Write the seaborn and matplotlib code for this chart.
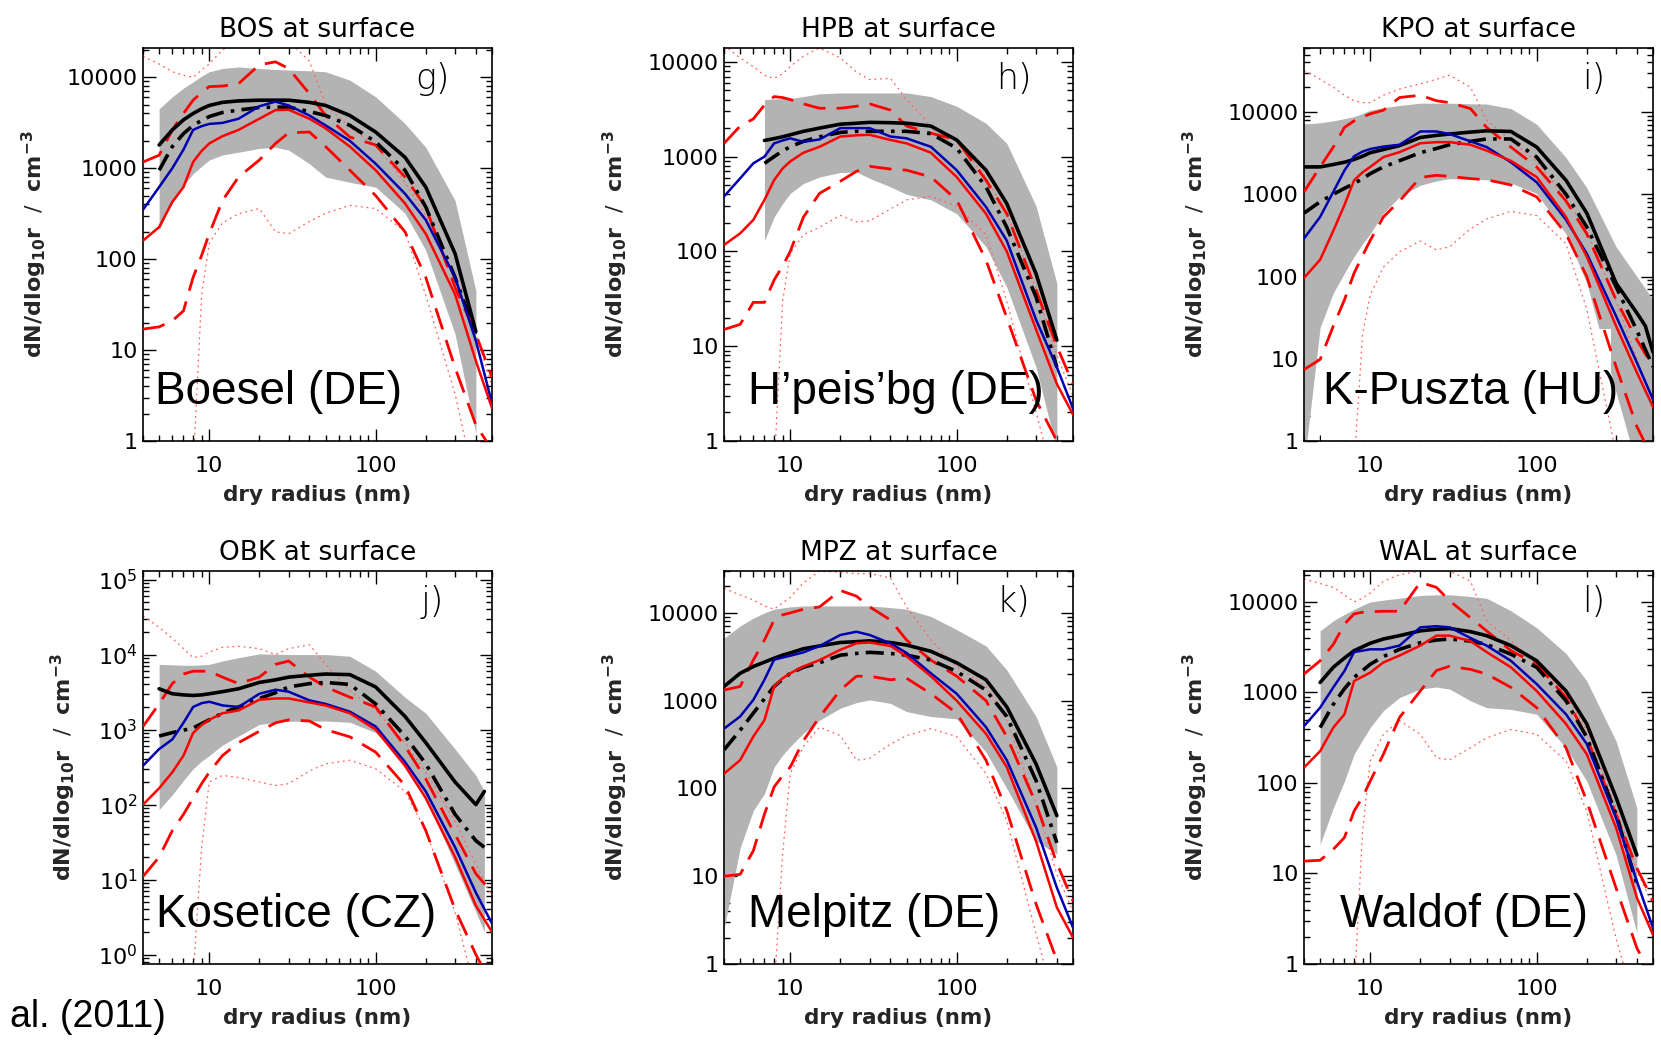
import numpy as np
import matplotlib
matplotlib.use("Agg")
import matplotlib.pyplot as plt
from matplotlib.patches import Rectangle
import seaborn as sns
from matplotlib.ticker import LogLocator, FuncFormatter, NullFormatter

N = np.nan

# common radius grid (nm); NaN = no reading at that radius
radius = [4, 5, 6, 7, 8, 9, 10, 12, 15, 20, 25, 30, 40, 50, 70, 100, 150, 200, 300, 400, 450, 500]

stations = ["BOS", "HPB", "KPO", "OBK", "MPZ", "WAL"]
panel_tags = ["g)", "h)", "i)", "j)", "k)", "l)"]
site_names = ["Boesel (DE)", "H\u2019peis\u2019bg (DE)", "K-Puszta (HU)",
              "Kosetice (CZ)", "Melpitz (DE)", "Waldof (DE)"]
y_bottom = [1, 1, 1, 0.75, 1, 1]
y_top = [21000, 14000, 60000, 1.3e5, 30000, 22000]

# observed spread (grey band)
band_hi = {
    "BOS": [N, 4500, 6100, 7600, 8900, 10300, 11500, 12500, 13000, 12500, 12200, 12000, 11800, 11500, 9300, 6100, 3100, 1700, 440, 45, N, N],
    "HPB": [N, N, N, 4000, 4050, 4100, 4100, 4300, 4600, 4700, 4700, 4700, 4700, 4700, 4300, 3400, 2250, 1380, 300, 46, N, N],
    "KPO": [7100, 7400, 7800, 8300, 8800, 9600, 10500, 11300, 12000, 12800, 12800, 12800, 12600, 12500, 11000, 7100, 2800, 1200, 230, 100, N, 52],
    "OBK": [N, 7400, 7300, 7200, 7200, 7300, 7400, 8200, 9100, 10200, 10100, 10000, 10000, 10000, 9500, 6000, 2700, 1650, 550, 245, 150, N],
    "MPZ": [5150, 7100, 8700, 10000, 11000, 11400, 11700, 12000, 12000, 12000, 12000, 12000, 11500, 11000, 9100, 6450, 4200, 2240, 660, 175, N, N],
    "WAL": [N, 4800, 6200, 7300, 8300, 9200, 10000, 10500, 11000, 11800, 12000, 12000, 11500, 11000, 8000, 5200, 2700, 1340, 290, 53, N, N],
}
band_lo = {
    "BOS": [N, 208, 440, 650, 870, 1050, 1230, 1400, 1500, 1650, 1700, 1580, 1120, 800, 700, 620, 320, 125, 15, 1.2, N, N],
    "HPB": [N, N, N, 130, 230, 320, 410, 520, 610, 680, 690, 590, 480, 400, 350, 250, 112, 42, 6, 0.8, N, N],
    "KPO": [0.5, 24, 63, 110, 175, 250, 330, 590, 930, 1290, 1450, 1550, 1520, 1500, 1370, 1020, 330, 83, 3.9, 0.5, N, 0.5],
    "OBK": [N, 86, 135, 210, 300, 380, 450, 620, 820, 1170, 1250, 1290, 1300, 1300, 1250, 910, 370, 122, 16, 3.7, 2, N],
    "MPZ": [2.5, 21, 56, 87, 175, 240, 300, 425, 600, 820, 950, 1020, 930, 750, 660, 620, 260, 100, 25, 18, N, N],
    "WAL": [N, 21, 53, 105, 208, 300, 410, 630, 880, 1090, 1150, 1090, 810, 680, 650, 575, 245, 105, 16, 2.2, N, N],
}
obs_median = {
    "BOS": [N, 1800, 2640, 3400, 4000, 4500, 4900, 5300, 5500, 5600, 5600, 5600, 5300, 4900, 3800, 2500, 1320, 620, 115, 16, N, N],
    "HPB": [N, N, N, 1480, 1550, 1620, 1700, 1850, 2000, 2200, 2250, 2300, 2280, 2250, 2100, 1500, 720, 320, 58, 11.6, N, N],
    "KPO": [2150, 2150, 2300, 2450, 2650, 2900, 3200, 3500, 3900, 4900, 5200, 5400, 5700, 5900, 5800, 3750, 1480, 590, 83, 36, 25, 12],
    "OBK": [N, 3500, 3000, 2900, 2850, 2900, 3000, 3200, 3500, 4250, 4600, 5000, 5300, 5500, 5400, 3700, 1500, 670, 200, 100, 150, N],
    "MPZ": [1450, 2050, 2450, 2750, 3040, 3300, 3500, 3900, 4200, 4600, 4700, 4800, 4600, 4300, 3650, 2700, 1730, 850, 190, 49, N, N],
    "WAL": [N, 1290, 1900, 2400, 2900, 3200, 3500, 3900, 4250, 4800, 5000, 5100, 4700, 4250, 3300, 2240, 1040, 450, 69, 16, N, N],
}
obs_mean = {
    "BOS": [N, 950, 1730, 2400, 2960, 3350, 3700, 4100, 4360, 4660, 4700, 4700, 4200, 3800, 2960, 1950, 950, 375, 63, 15, N, N],
    "HPB": [N, N, N, 850, 1000, 1150, 1270, 1450, 1620, 1800, 1850, 1850, 1850, 1850, 1750, 1230, 480, 180, 33, 6, N, N],
    "KPO": [590, 810, 1000, 1180, 1350, 1550, 1780, 2150, 2560, 3200, 3600, 4000, 4400, 4700, 4700, 2830, 1000, 400, 75, 22, N, 8],
    "OBK": [N, 820, 910, 980, 1050, 1200, 1350, 1650, 2000, 2600, 3100, 3700, 4100, 4250, 4000, 2200, 820, 350, 74, 33, 27, N],
    "MPZ": [275, 460, 720, 1050, 1450, 1750, 2050, 2400, 2700, 3300, 3450, 3550, 3450, 3300, 2900, 2150, 1320, 660, 123, 24, N, N],
    "WAL": [N, 410, 740, 1100, 1470, 1750, 2050, 2500, 3000, 3550, 3800, 3900, 3700, 3400, 2650, 1900, 810, 320, 45, 7.6, N, N],
}
model_blue = {
    "BOS": [350, 620, 1000, 1600, 2640, 2900, 3070, 3150, 3500, 4800, 5400, 4900, 3800, 2960, 2000, 1120, 525, 270, 63, 12.7, N, 2.6],
    "HPB": [380, 590, 850, 1000, 1380, 1480, 1560, 1430, 1520, 2000, 2000, 2000, 1630, 1560, 1270, 720, 295, 130, 19, 6, N, 2.2],
    "KPO": [290, 530, 1070, 1950, 2900, 3300, 3550, 3800, 4000, 5800, 5800, 5400, 4400, 3750, 2450, 1400, 490, 190, 33, 9, N, 3.2],
    "OBK": [330, 550, 740, 1230, 2000, 2250, 2350, 2100, 2000, 3000, 3400, 3200, 2450, 2200, 1730, 1100, 370, 150, 27, 6.7, N, 2.6],
    "MPZ": [480, 660, 1020, 1730, 2930, 3100, 3250, 3550, 4200, 5600, 6100, 5600, 4500, 3500, 2050, 1200, 500, 210, 36, 7.4, N, 2.6],
    "WAL": [425, 680, 1140, 1730, 2800, 2900, 3000, 3000, 3300, 5250, 5400, 5250, 4000, 3300, 2240, 1240, 575, 270, 41, 8.2, N, 2.5],
}
model_red = {
    "BOS": [160, 225, 425, 620, 1170, 1550, 1870, 2250, 2640, 3500, 4360, 4400, 3500, 2750, 1730, 950, 410, 190, 41, 7.6, N, 2.3],
    "HPB": [117, 155, 215, 350, 565, 750, 890, 1100, 1270, 1630, 1680, 1700, 1500, 1380, 1100, 610, 250, 100, 15, 4, N, 1.9],
    "KPO": [96, 160, 360, 740, 1480, 1850, 2150, 2830, 3250, 4170, 4300, 4300, 4000, 3400, 2550, 1620, 530, 175, 25, 6.8, N, 2.6],
    "OBK": [100, 165, 270, 450, 900, 1150, 1350, 1650, 1800, 2500, 2600, 2600, 2300, 2100, 1650, 1000, 330, 122, 20, 4.5, N, 2],
    "MPZ": [147, 210, 390, 600, 1450, 1800, 2050, 2450, 2900, 3800, 4500, 4600, 4200, 3200, 1900, 1000, 420, 175, 25, 4.4, N, 2],
    "WAL": [148, 225, 410, 575, 1340, 1500, 1660, 2150, 2560, 3300, 4250, 4250, 3700, 2800, 1900, 1040, 450, 208, 32, 5.4, N, 2.1],
}
red_dash_hi = {
    "BOS": [1170, 1390, 2640, 4000, 5600, 6800, 7900, 8000, 8500, 13700, 14800, 12500, 6600, 3800, 2200, 1800, 800, 375, 49, 15, N, 5],
    "HPB": [1380, 2100, 2500, 3500, 4300, 4200, 4000, 3600, 3240, 3240, 3400, 3600, 3100, 2100, 1770, 1500, 565, 250, 39, 10, N, 4],
    "KPO": [1070, 2150, 3750, 6500, 7800, 8700, 9500, 10500, 15000, 16000, 13700, 13000, 11000, 6500, 3750, 2150, 830, 330, 52, 17, N, 8],
    "OBK": [1100, 2200, 4100, 5500, 6000, 6000, 6000, 5000, 4100, 5000, 7400, 8200, 5000, 3700, 2700, 2000, 600, 220, 40, 12, N, 6.7],
    "MPZ": [1320, 1450, 2900, 4900, 8300, 9500, 10000, 11000, 11700, 18000, 15500, 11700, 8300, 4900, 2900, 1900, 1000, 390, 67, 14, N, 5.2],
    "WAL": [1600, 2240, 3400, 5700, 7400, 7700, 7800, 7900, 7900, 16500, 14500, 10300, 6700, 4800, 2900, 2050, 880, 320, 45, 11.5, N, 5],
}
red_dash_lo = {
    "BOS": [17, 18, 21, 27, 63, 110, 190, 440, 800, 1230, 1870, 2450, 2500, 1730, 950, 500, 200, 63, 6.4, 1.5, N, 0.8],
    "HPB": [15, 17, 29, 29, 50, 70, 100, 230, 410, 550, 700, 790, 740, 720, 610, 350, 81, 20, 2.7, 1, 0.5, N],
    "KPO": [7.4, 9.8, 25, 52, 110, 180, 275, 530, 830, 1600, 1700, 1650, 1550, 1500, 1300, 930, 330, 100, 8, 1.5, N, 0.6],
    "OBK": [11, 20, 45, 74, 122, 190, 270, 450, 670, 950, 1230, 1350, 1300, 1000, 800, 500, 180, 45, 4, 1, N, 0.4],
    "MPZ": [10, 10.5, 19.5, 51, 104, 140, 175, 350, 650, 1320, 1900, 1900, 1730, 1800, 1200, 720, 210, 56, 4.8, 1.1, N, 0.5],
    "WAL": [13.7, 14, 18.5, 25, 49, 70, 105, 208, 530, 1040, 1750, 1950, 1800, 1600, 1140, 680, 245, 63, 6.9, 1.5, 1, 0.6],
}
red_dot_hi = {
    "BOS": [17000, 14000, 11500, 10500, 10000, 12000, 14000, 20000, 25000, 28000, 27000, 25000, 15000, 5000, 2800, 1800, 700, 300, 60, 15, N, 4],
    "HPB": [15000, 11000, 8900, 7200, 6700, 7500, 8900, 11500, 14000, 11000, 7800, 6500, 6700, 4000, 2100, 1500, 600, 250, 40, 8, N, 3],
    "KPO": [32000, 25000, 20000, 16000, 13700, 13000, 13000, 16000, 19000, 22000, 25000, 28000, 20000, 8000, 4500, 2500, 900, 350, 50, 10, N, 3],
    "OBK": [33000, 23000, 16500, 12000, 9100, 9500, 10800, 12500, 12900, 12000, 10000, 12000, 13500, 7400, 3300, 1800, 670, 270, 60, 16, N, 6],
    "MPZ": [19000, 16000, 14000, 12000, 11000, 13000, 15000, 22000, 30000, 29000, 28000, 28000, 25000, 11700, 4900, 2450, 1450, 600, 67, 10.5, N, 4],
    "WAL": [18000, 16000, 14500, 12000, 10000, 11000, 12500, 17000, 20000, 22000, 22000, 22000, 17000, 6200, 3750, 2050, 950, 380, 53, 10.6, N, 4.5],
}
red_dot_lo = {
    "BOS": [N, N, N, N, 0.5, 40, 150, 250, 316, 360, 200, 190, 260, 320, 390, 360, 200, 40, 3.3, 0.3, N, N],
    "HPB": [N, N, N, N, 0.5, 30, 95, 150, 180, 240, 205, 210, 280, 350, 380, 300, 150, 30, 2, 0.3, N, N],
    "KPO": [N, N, N, N, 0.5, 20, 60, 130, 200, 270, 210, 230, 380, 500, 620, 550, 250, 40, 0.7, N, N, N],
    "OBK": [N, N, N, N, 0.5, 27, 200, 245, 230, 200, 180, 190, 280, 350, 390, 300, 150, 45, 3.7, 0.3, N, N],
    "MPZ": [N, N, N, N, 0.5, 18, 147, 300, 500, 400, 210, 220, 320, 400, 480, 390, 147, 43, 2.2, 0.3, N, N],
    "WAL": [N, N, N, N, 0.5, 30, 175, 345, 490, 345, 190, 180, 245, 315, 390, 345, 175, 49, 1.9, 0.3, N, N],
}

sns.set_theme(style="ticks")
plt.rcParams["font.family"] = ["DejaVu Sans"]
plt.rcParams["axes.linewidth"] = 1.2

fig = plt.figure(figsize=(16.61, 10.44), dpi=100)

col_left = [143, 724, 1304]
row_top = [48, 571]
ax_w, ax_h = 349, 393
W, H = 1661, 1044

x_all = np.array(radius, dtype=float)


def draw_line(ax, values, **kw):
    y = np.array(values, dtype=float)
    m = ~np.isnan(y)
    sns.lineplot(x=x_all[m], y=y[m], ax=ax, sort=False, estimator=None,
                 legend=False, **kw)


for i, st in enumerate(stations):
    r, c = divmod(i, 3)
    left = col_left[c] / W
    bottom = 1 - (row_top[r] + ax_h) / H
    ax = fig.add_axes([left, bottom, ax_w / W, ax_h / H])
    ax.set_xscale("log")
    ax.set_yscale("log")

    hi = np.array(band_hi[st], dtype=float)
    lo = np.array(band_lo[st], dtype=float)
    m = ~(np.isnan(hi) | np.isnan(lo))
    ax.fill_between(x_all[m], lo[m], hi[m], color="#b3b3b3", lw=0, zorder=1)

    # white background patch behind the K-Puszta label
    if st == "KPO":
        ax.add_patch(Rectangle((0.049, 0.0), 0.83, 0.285, transform=ax.transAxes,
                               facecolor="white", edgecolor="none", zorder=1.5))

    draw_line(ax, red_dot_hi[st], color="#ff6060", lw=0.9, linestyle=(0, (1.5, 3)), zorder=2)
    draw_line(ax, red_dot_lo[st], color="#ff6060", lw=0.9, linestyle=(0, (1.5, 3)), zorder=2)
    draw_line(ax, red_dash_hi[st], color="#ff0000", lw=2.0, linestyle=(0, (8, 4)), zorder=3)
    draw_line(ax, red_dash_lo[st], color="#ff0000", lw=2.0, linestyle=(0, (8, 4)), zorder=3)
    draw_line(ax, obs_median[st], color="black", lw=2.6, zorder=4)
    draw_line(ax, obs_mean[st], color="black", lw=2.6, linestyle=(0, (5, 2, 1, 2)), zorder=4)
    draw_line(ax, model_blue[st], color="#0000b0", lw=1.8, zorder=5)
    draw_line(ax, model_red[st], color="#ff0000", lw=1.8, zorder=5)

    ax.set_xlim(4, 500)
    ax.set_ylim(y_bottom[i], y_top[i])

    ax.xaxis.set_major_locator(LogLocator(base=10))
    ax.xaxis.set_minor_locator(LogLocator(base=10, subs=range(2, 10)))
    ax.xaxis.set_minor_formatter(NullFormatter())
    ax.xaxis.set_major_formatter(FuncFormatter(lambda v, p: f"{v:g}"))
    ax.yaxis.set_major_locator(LogLocator(base=10))
    ax.yaxis.set_minor_locator(LogLocator(base=10, subs=range(2, 10)))
    ax.yaxis.set_minor_formatter(NullFormatter())
    if st != "OBK":
        ax.yaxis.set_major_formatter(FuncFormatter(lambda v, p: f"{v:g}"))

    ax.tick_params(which="both", direction="in", top=True, right=True,
                   width=1.0, color="black", labelsize=16, labelcolor="black")
    ax.tick_params(which="major", length=9)
    ax.tick_params(which="minor", length=4.5)
    ax.tick_params(axis="x", pad=11)
    ax.tick_params(axis="y", pad=4)
    for sp in ax.spines.values():
        sp.set_color("black")
        sp.set_linewidth(1.2)

    ax.set_title(f"{st} at surface", fontsize=19, pad=8, color="black")
    ax.set_xlabel("dry radius (nm)", fontsize=15.5, fontweight="bold")
    ax.set_ylabel(r"$\mathbf{dN/dlog_{10}r}$  /  $\mathbf{cm^{-3}}$", fontsize=16)
    ax.yaxis.set_label_coords(-0.185 if st == "OBK" else -0.27, 0.5)
    ax.xaxis.set_label_coords(0.5, -0.113)

    ax.text(0.83, 0.92, panel_tags[i], transform=ax.transAxes, fontsize=25,
            ha="center", va="center", color="black", fontweight="light")

    name_x = {"BOS": 0.034, "HPB": 0.069, "KPO": 0.054,
              "OBK": 0.037, "MPZ": 0.069, "WAL": 0.103}[st]
    ax.text(name_x, 0.125, site_names[i], transform=ax.transAxes, fontsize=33,
            family="Liberation Sans", ha="left", va="center", color="black",
            zorder=6)

fig.text(10 / W, 1 - 1017 / H, "al. (2011)", fontsize=27, family="Liberation Sans",
         ha="left", va="center", color="black")

fig.savefig("out.png", dpi=100, facecolor="white")
